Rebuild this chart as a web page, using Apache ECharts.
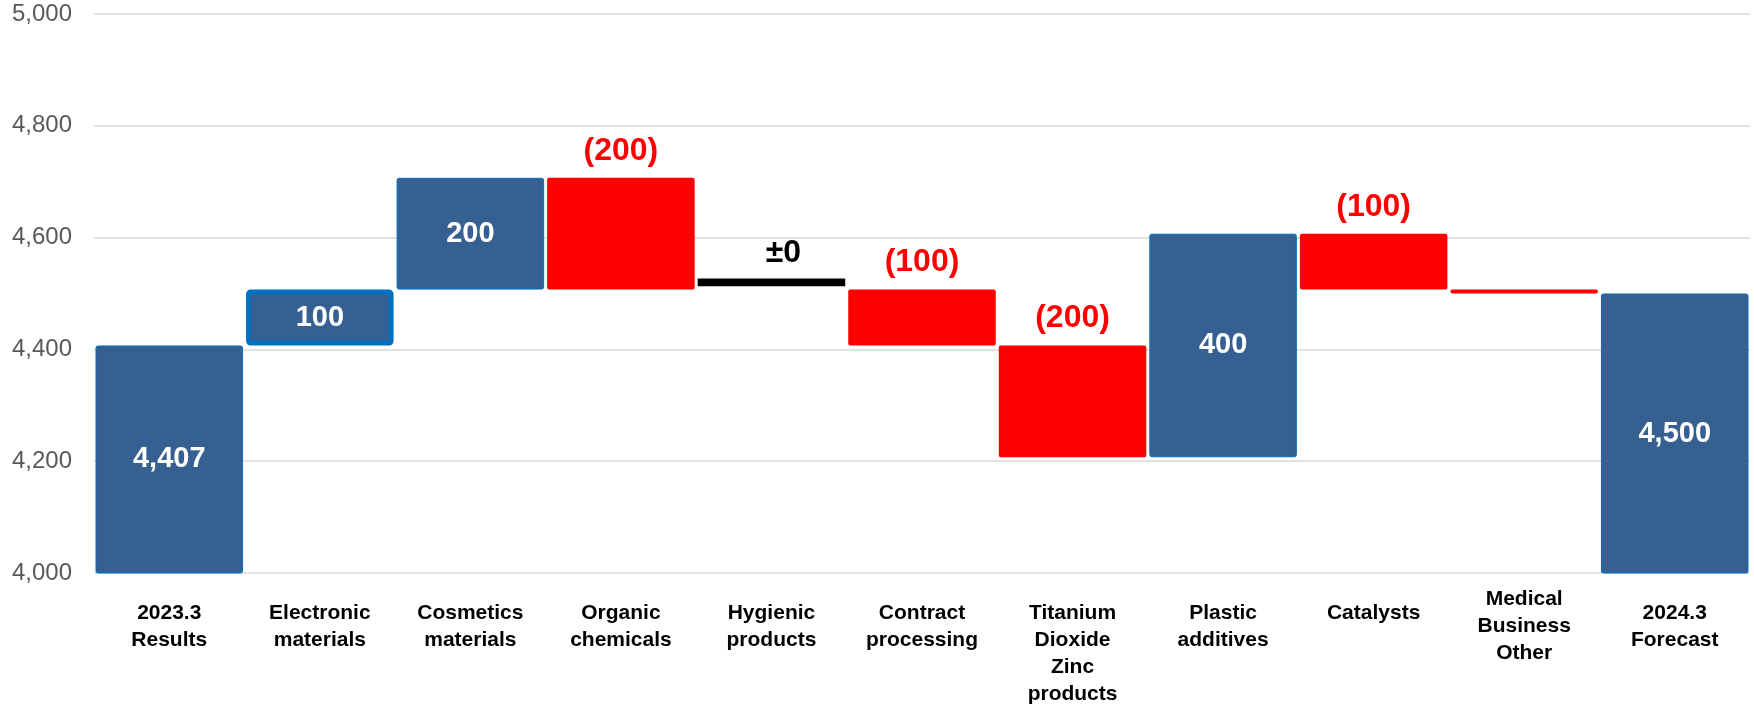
<!DOCTYPE html>
<html>
<head>
<meta charset="utf-8">
<script src="https://cdn.jsdelivr.net/npm/echarts@6/dist/echarts.min.js"></script>
<style>
	html, body { margin: 0; padding: 0; background: #fff; }
	#waterfall { width: 1754px; height: 708px; }
</style>
</head>
<body>
<div id="waterfall"></div>
<script>
	var categories = ['2023.3\nResults', 'Electronic\nmaterials', 'Cosmetics\nmaterials', 'Organic\nchemicals',
		'Hygienic\nproducts', 'Contract\nprocessing', 'Titanium\nDioxide\nZinc\nproducts', 'Plastic\nadditives',
		'Catalysts', 'Medical\nBusiness\nOther', '2024.3\nForecast'];
	var totals = [4407, '-', '-', '-', '-', '-', '-', '-', '-', '-', 4500];
	var increases = ['-', 100, 200, '-', '-', '-', '-', 400, '-', '-', '-'];
	var decreases = ['-', '-', '-', 200, '-', 100, 200, '-', 100, 7, '-'];
	var unchanged = ['-', '-', '-', '-', 0, '-', '-', '-', '-', '-', '-'];
	var yTicks = [4000, 4200, 4400, 4600, 4800, 5000];

	/*瀑布图的底座（透明）*/
	var base = [], flat = [];
	var running = 0;
	for(var i = 0; i < categories.length; i++) {
		if(totals[i] !== '-') {
			running = totals[i];
			base.push(0);
			flat.push('-');
		} else if(increases[i] !== '-') {
			base.push(running);
			running += increases[i];
			flat.push('-');
		} else if(decreases[i] !== '-') {
			running -= decreases[i];
			base.push(running);
			flat.push('-');
		} else {
			// ±0 marker sits a little above the running total
			base.push(running + 6);
			flat.push(14);
		}
	}

	var font = 'Liberation Sans, Arial, sans-serif';

	var axisData = categories.map(function(c) {
		if(c.split('\n').length === 3) {
			return { value: c, textStyle: { padding: [-14, 0, 0, 0] } };
		}
		return c;
	});

	var incData = increases.map(function(v, i) {
		if(i === 1) {
			return { value: v, itemStyle: { borderWidth: 5, borderColor: '#0070C0' } };
		}
		return v;
	});

	var Chart = echarts.init(document.getElementById('waterfall'));
	var option = {
		backgroundColor: '#fff',
		animation: false,
		grid: {
			left: 94,
			right: 4,
			top: 14,
			bottom: 130
		},
		xAxis: {
			type: 'category',
			data: axisData,
			axisLine: { show: false },
			axisTick: { show: false },
			axisLabel: {
				interval: 0,
				color: '#000',
				fontFamily: font,
				fontWeight: 'bold',
				fontSize: 21,
				lineHeight: 27,
				margin: 27
			}
		},
		yAxis: {
			type: 'value',
			min: yTicks[0],
			max: yTicks[yTicks.length - 1],
			interval: 200,
			axisLine: { show: false },
			axisTick: { show: false },
			axisLabel: {
				color: '#595959',
				fontFamily: font,
				fontSize: 24,
				margin: 22,
				formatter: function(v) {
					return v.toLocaleString('en-US');
				}
			},
			splitLine: {
				lineStyle: { color: '#D9D9D9', width: 1.5 }
			}
		},
		series: [{
			name: 'base',
			type: 'bar',
			stack: 'wf',
			barCategoryGap: '2%',
			itemStyle: { color: 'transparent' },
			data: base
		}, {
			name: 'total',
			type: 'bar',
			stack: 'wf',
			itemStyle: { color: '#366092', borderColor: '#0070C0', borderWidth: 1, borderRadius: 2 },
			label: {
				show: true,
				position: 'inside',
				color: '#fff',
				fontFamily: font,
				fontWeight: 'bold',
				fontSize: 29,
				formatter: function(p) {
					return p.value.toLocaleString('en-US');
				}
			},
			data: totals
		}, {
			name: 'increase',
			type: 'bar',
			stack: 'wf',
			itemStyle: { color: '#366092', borderColor: '#0070C0', borderWidth: 1, borderRadius: 2 },
			label: {
				show: true,
				position: 'inside',
				color: '#fff',
				fontFamily: font,
				fontWeight: 'bold',
				fontSize: 29
			},
			data: incData
		}, {
			name: 'decrease',
			type: 'bar',
			stack: 'wf',
			itemStyle: { color: '#FF0000', borderRadius: 2 },
			label: {
				show: true,
				position: 'top',
				distance: 11,
				color: '#FF0000',
				fontFamily: font,
				fontWeight: 'bold',
				fontSize: 32,
				formatter: function(p) {
					return p.value >= 50 ? '(' + p.value + ')' : '';
				}
			},
			data: decreases
		}, {
			name: 'unchanged',
			type: 'bar',
			stack: 'wf',
			itemStyle: { color: '#000' },
			label: {
				show: true,
				position: 'top',
				distance: 9,
				offset: [12, 0],
				color: '#000',
				fontFamily: font,
				fontWeight: 'bold',
				fontSize: 32,
				formatter: function(p) {
					return unchanged[p.dataIndex] === 0 ? '±0' : '';
				}
			},
			data: flat
		}]
	};
	Chart.setOption(option);
</script>
</body>
</html>
